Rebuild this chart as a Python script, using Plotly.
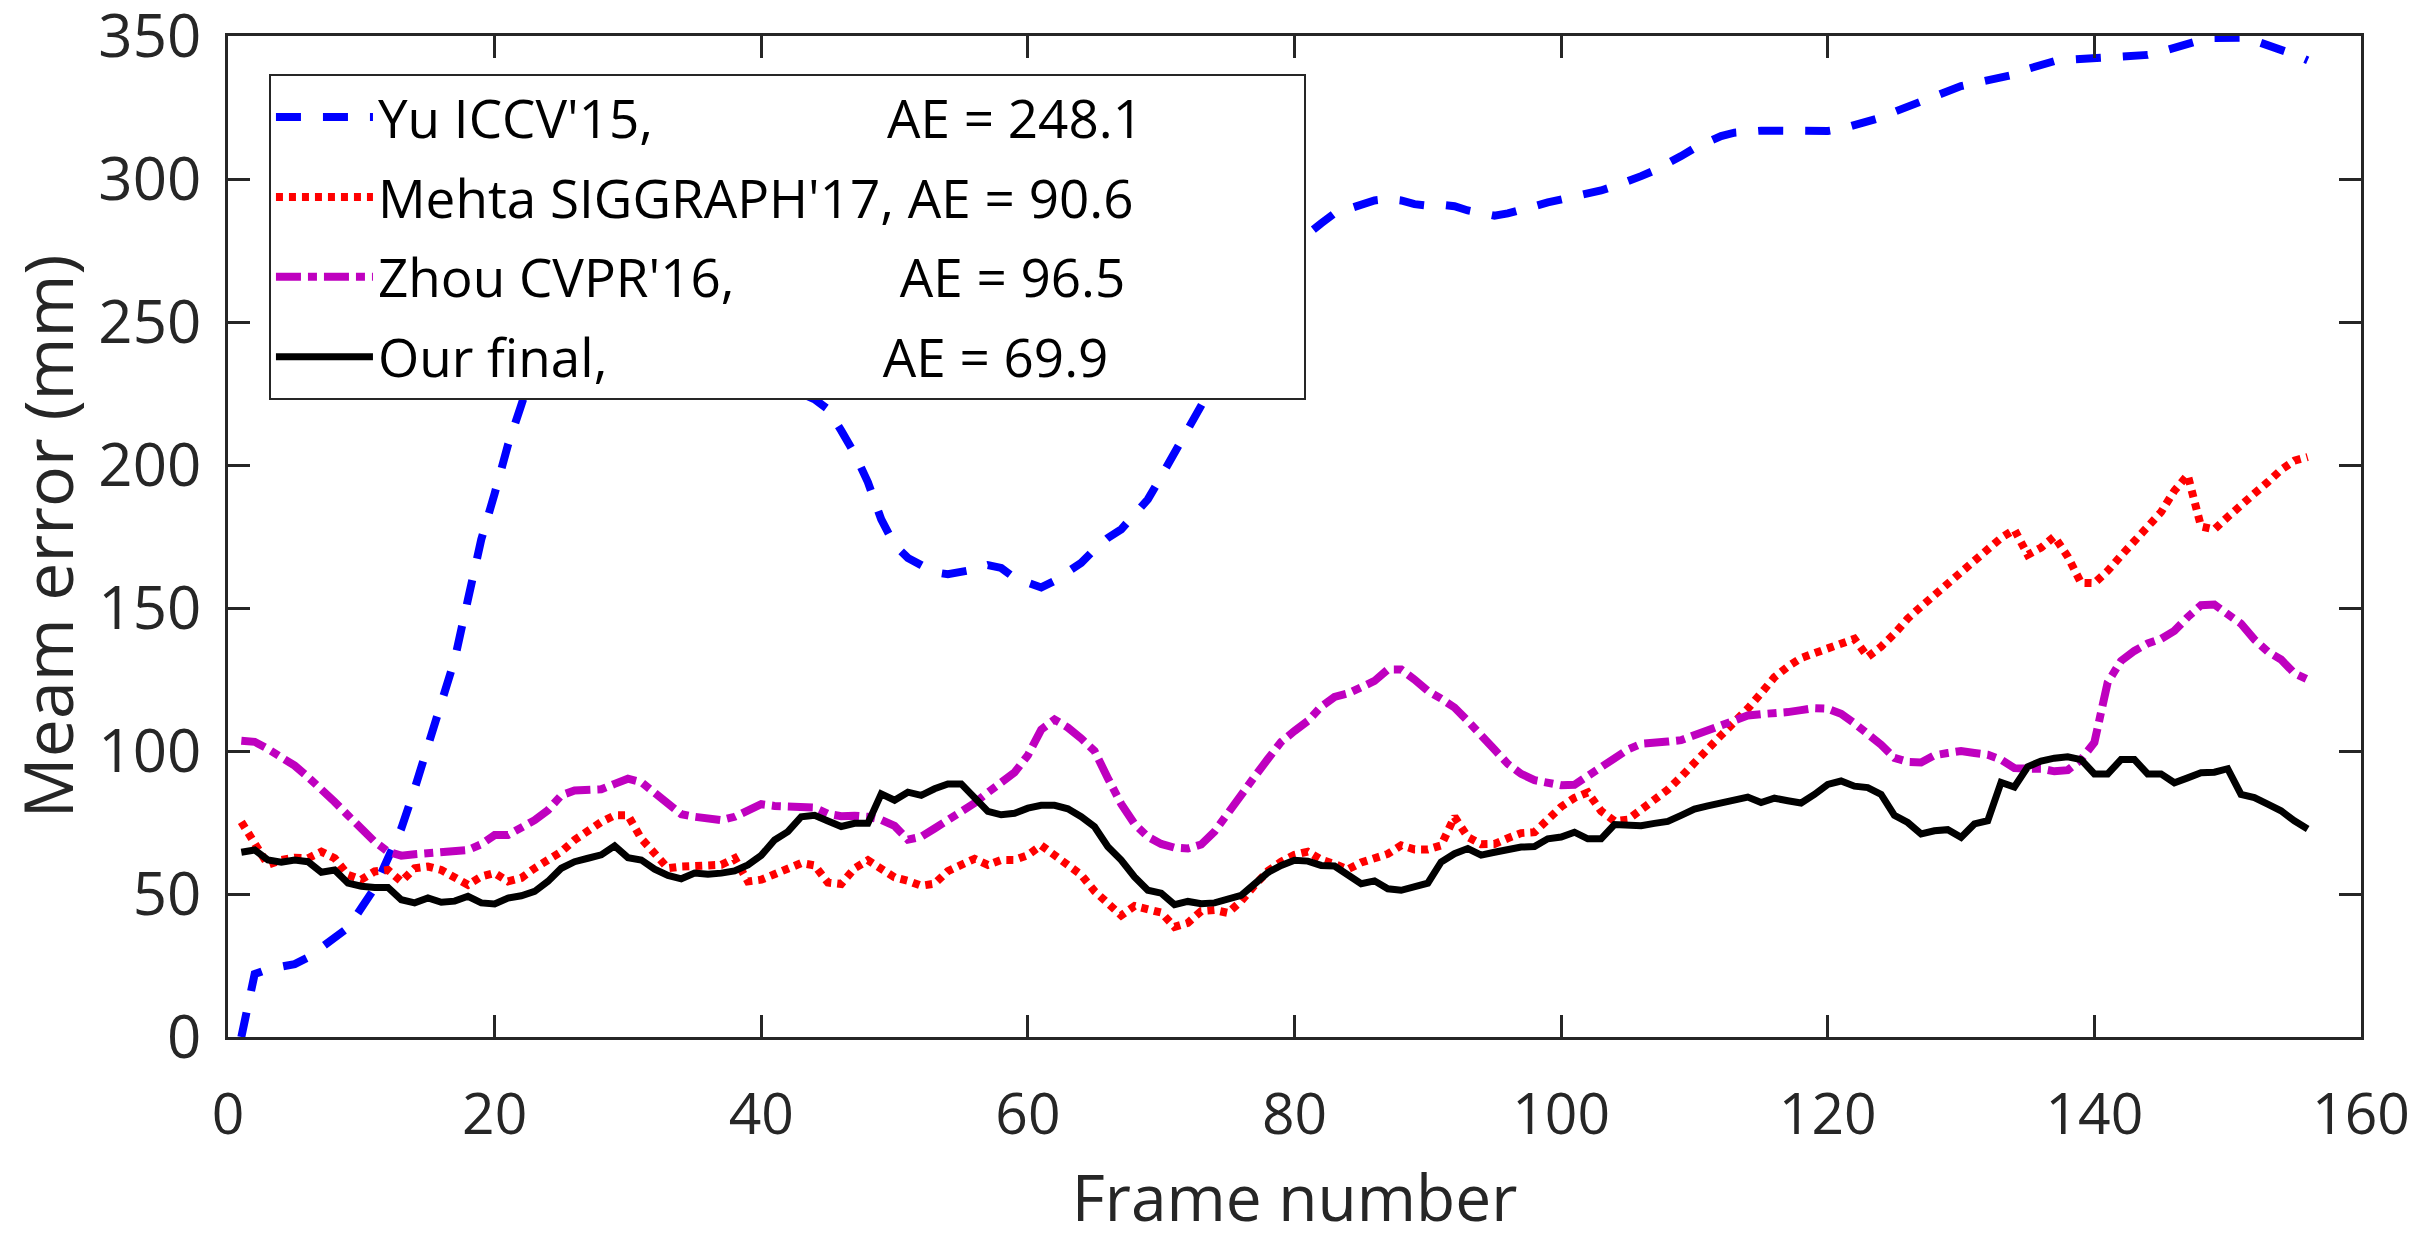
import plotly.graph_objects as go

frames = list(range(1, 157))

# Yu ICCV'15 (blue dashed)
yu = [0, 22, 23.7, 24.3, 25.5, 27.8, 31.3, 34.7, 38.2, 45.1,
      52.1, 62.5, 72.9, 86.8, 101.9, 115.7, 131.9, 153, 174, 190,
      207, 221, 235, 246, 254, 260, 264, 267, 268, 268,
      267, 265, 262, 258, 254, 250, 246, 242, 238, 234,
      230, 228, 225, 223, 219.5, 212, 204, 194, 181, 172,
      167.5, 165, 162.5, 161.8, 162.5, 163.5, 165, 164, 160.5, 158.5,
      157.2, 159.5, 163, 165.8, 170.5, 174.5, 177.5, 182.5, 188, 196,
      204, 212, 220, 229, 238, 248, 257, 265, 272, 277,
      281, 284.5, 288, 289.5, 291.5, 292.5, 293, 292.5, 291.2, 290.7,
      291, 290.5, 289, 287.8, 287.2, 288, 289, 290.5, 291.8, 292.8,
      293.6, 294.5, 296, 297.5, 299, 301, 303, 305.3, 308, 310.8,
      313, 315, 316.2, 316.7, 316.9, 316.9, 316.8, 316.7, 316.7, 316.8,
      317.5, 318.8, 319.8, 321.5, 323.5, 325.3, 327.3, 329.3, 331, 332.5,
      333.5, 334.4, 335, 336.5, 338.5, 340.2, 341.2, 341.7, 342, 342.2,
      342.5, 342.8, 343.1, 343.4, 344.5, 346, 347.5, 348.6, 349.3, 349.6,
      349.4, 348.4, 347, 345.5, 343.5, 341.5]

# Mehta SIGGRAPH'17 (red dotted)
mehta = [75.2, 67.7, 60.2, 61.9, 62.7, 62.5, 64.8, 62.5, 56.7, 55.0,
         57.9, 58.4, 54.4, 59.0, 59.6, 58.4, 55.6, 53.2, 56.1, 57.3,
         54.4, 55.6, 59.0, 61.9, 64.8, 68.9, 72.3, 75.2, 77.5, 77.5,
         69.4, 64.2, 59.0, 59.6, 59.8, 59.8, 60.2, 62.5, 54.4, 55.0,
         56.7, 58.4, 60.8, 60.0, 54.0, 53.5, 59.0, 61.8, 58.5, 55.8,
         54.6, 52.9, 53.6, 58.0, 60.2, 62.3, 60.2, 61.9, 61.9, 63.6,
         67.0, 63.5, 59.8, 56.7, 51.0, 46.5, 42.5, 45.8, 44.3, 43.5,
         38.5, 39.9, 44.0, 44.4, 43.4, 47.5, 53.0, 58.0, 61.3, 63.7,
         64.8, 62.0, 60.5, 58.6, 61.0, 62.5, 64.0, 67.0, 65.6, 65.6,
         67.0, 77.0, 69.9, 67.4, 67.5, 69.5, 71.3, 71.6, 76.5, 80.5,
         83.6, 85.5, 79.0, 75.5, 76.0, 79.5, 82.7, 86.5, 91.0, 95.5,
         100.7, 105.5, 110.0, 114.8, 120.2, 125.8, 129.5, 132.5, 134.2, 135.8,
         137.5, 139.2, 132.9, 136.5, 141.0, 146.3, 150.5, 154.5, 158.5, 161.8,
         166.0, 169.9, 174.5, 177.4, 168.6, 171.1, 175.0, 168.0, 158.8, 158.7,
         163.0, 168.3, 173.4, 178.0, 183.5, 191.0, 196.5, 178.5, 177.5, 181.8,
         185.5, 190.0, 194.0, 198.3, 201.5, 202.8]

# Zhou CVPR'16 (magenta dash-dot)
zhou = [103.6, 103.2, 100.7, 97.8, 94.9, 90.9, 86.8, 82.2, 77.5, 72.9,
        68.3, 64.8, 63.4, 63.9, 64.2, 64.6, 64.8, 65.4, 67.4, 70.6,
        70.6, 72.9, 75.8, 79.3, 84.5, 86.2, 86.5, 86.6, 88.5, 90.3,
        89.1, 85.1, 81.0, 77.9, 77.0, 76.6, 75.8, 77.0, 79.3, 81.4,
        80.8, 80.8, 80.6, 80.2, 78.0, 77.2, 77.4, 77.0, 75.9, 73.8,
        69.0, 70.0, 72.9, 75.6, 78.3, 81.8, 85.5, 89.0, 92.5, 98.5,
        107.5, 111.0, 108.2, 104.4, 100.0, 90.5, 81.5, 74.5, 70.0, 67.5,
        66.2, 65.9, 67.3, 71.8, 78.5, 85.0, 91.0, 97.2, 103.2, 107.0,
        110.5, 115.5, 118.9, 120.1, 122.2, 124.5, 128.5, 128.5, 125.0, 121.0,
        118.3, 115.2, 110.5, 105.0, 100.5, 95.5, 92.0, 89.8, 89.2, 88.0,
        88.2, 91.2, 95.0, 97.8, 100.5, 102.5, 103.2, 103.3, 103.8, 105.5,
        107.8, 109.5, 111.0, 112.4, 112.9, 113.1, 113.6, 114.3, 115.0, 114.8,
        113.0, 109.7, 106.0, 102.2, 97.6, 96.2, 96.0, 98.5, 99.3, 100.0,
        99.3, 98.7, 97.0, 94.0, 93.8, 93.8, 92.9, 93.3, 97.0, 103.0,
        124.0, 131.5, 135.0, 137.6, 139.2, 142.0, 146.8, 151.0, 151.2, 148.0,
        144.5, 139.0, 134.8, 132.0, 127.2, 125.0]

# Our final (black solid)
ours = [64.6, 65.4, 61.9, 61.1, 61.9, 61.3, 57.6, 58.4, 53.8, 52.7,
        52.3, 52.3, 48.0, 46.9, 48.6, 47.1, 47.5, 49.2, 46.9, 46.5,
        48.6, 49.4, 50.9, 54.4, 59.0, 61.3, 62.5, 63.7, 66.8, 62.7,
        61.9, 58.7, 56.5, 55.3, 57.3, 56.9, 57.3, 58.1, 60.2, 63.5,
        68.9, 71.8, 77.0, 77.5, 75.5, 73.6, 74.7, 74.7, 85.0, 82.8,
        85.6, 84.5, 86.8, 88.5, 88.5, 83.3, 78.9, 77.7, 78.2, 80.0,
        81.0, 81.0, 79.8, 77.0, 73.5, 66.5, 61.9, 56.0, 51.3, 50.3,
        46.3, 47.4, 46.6, 46.9, 48.2, 49.5, 53.5, 57.5, 60.0, 61.8,
        61.5, 60.0, 59.8, 56.5, 53.6, 54.6, 51.8, 51.3, 52.5, 53.8,
        61.2, 64.1, 65.9, 63.6, 64.6, 65.6, 66.4, 66.6, 69.3, 69.9,
        71.6, 69.3, 69.3, 74.3, 74.3, 73.9, 74.7, 75.4, 77.5, 79.7,
        80.8, 82.0, 83.1, 83.9, 82.0, 83.5, 82.6, 81.8, 84.8, 88.3,
        89.5, 87.7, 87.2, 84.8, 77.5, 75.0, 71.0, 72.1, 72.5, 69.8,
        74.5, 75.6, 89.0, 87.4, 94.5, 96.5, 97.5, 98.0, 97.0, 92.0,
        92.0, 97.0, 97.0, 92.0, 92.0, 88.9, 90.6, 92.4, 92.6, 93.8,
        84.8, 83.7, 81.4, 79.1, 75.6, 72.7]

NB = '\u00a0'
pad = NB * 11 + '<span style="color:white">.</span>'
names = [
    "Yu ICCV'15," + NB * 17 + "AE = 248.1",
    "Mehta SIGGRAPH'17, AE = 90.6" + pad,
    "Zhou CVPR'16," + NB * 12 + "AE = 96.5",
    "Our final," + NB * 20 + "AE = 69.9",
]

axis_col = '#262626'
font = 'Open Sans'

fig = go.Figure()
fig.add_trace(go.Scatter(x=frames, y=yu, mode='lines', name=names[0], legendgroup='a',
                         line=dict(color='#0000ff', width=8, dash='25px,22px')))
fig.add_trace(go.Scatter(x=frames, y=mehta, mode='lines', name=names[1], legendgroup='b',
                         line=dict(color='#ff0000', width=8, dash='7px,6px')))
fig.add_trace(go.Scatter(x=frames, y=zhou, mode='lines', name=names[2], legendgroup='c',
                         line=dict(color='#bf00bf', width=8, dash='25px,7px,9px,7px')))
fig.add_trace(go.Scatter(x=frames, y=ours, mode='lines', name=names[3], legendgroup='d',
                         line=dict(color='#000000', width=7)))

fig.update_layout(
    width=2414, height=1240,
    margin=dict(l=228, r=53, t=36, b=203),
    paper_bgcolor='white', plot_bgcolor='white',
    font=dict(family=font, color=axis_col),
    showlegend=True,
    legend=dict(x=0.0192, y=0.962, xanchor='left', yanchor='top',
                bgcolor='white', bordercolor=axis_col, borderwidth=2,
                font=dict(family=font, size=53, color='black'),
                itemwidth=97, tracegroupgap=8),
    xaxis=dict(range=[0, 160], tickvals=[0, 20, 40, 60, 80, 100, 120, 140, 160],
               showgrid=False, zeroline=False, showline=True, mirror='ticks',
               linecolor=axis_col, linewidth=2.5, ticks='inside', ticklen=22,
               tickwidth=2.5, tickcolor=axis_col, ticklabelstandoff=26,
               automargin=False,
               tickfont=dict(size=57, color=axis_col),
               title=dict(text='Frame number', font=dict(size=64, color=axis_col), standoff=28)),
    yaxis=dict(range=[0, 350], tickvals=[0, 50, 100, 150, 200, 250, 300, 350],
               showgrid=False, zeroline=False, showline=True, mirror='ticks',
               linecolor=axis_col, linewidth=2.5, ticks='inside', ticklen=22,
               tickwidth=2.5, tickcolor=axis_col, ticklabelstandoff=12,
               ticklabeloverflow='allow', automargin=False,
               tickfont=dict(size=60, color=axis_col),
               title=dict(text='Meam error (mm)', font=dict(size=68, color=axis_col), standoff=34)),
)

# drop the default page margin so the figure sits at the window's corner
fig.write_html("out.html", config={'displayModeBar': False},
               post_script="document.body.style.margin='0';")
